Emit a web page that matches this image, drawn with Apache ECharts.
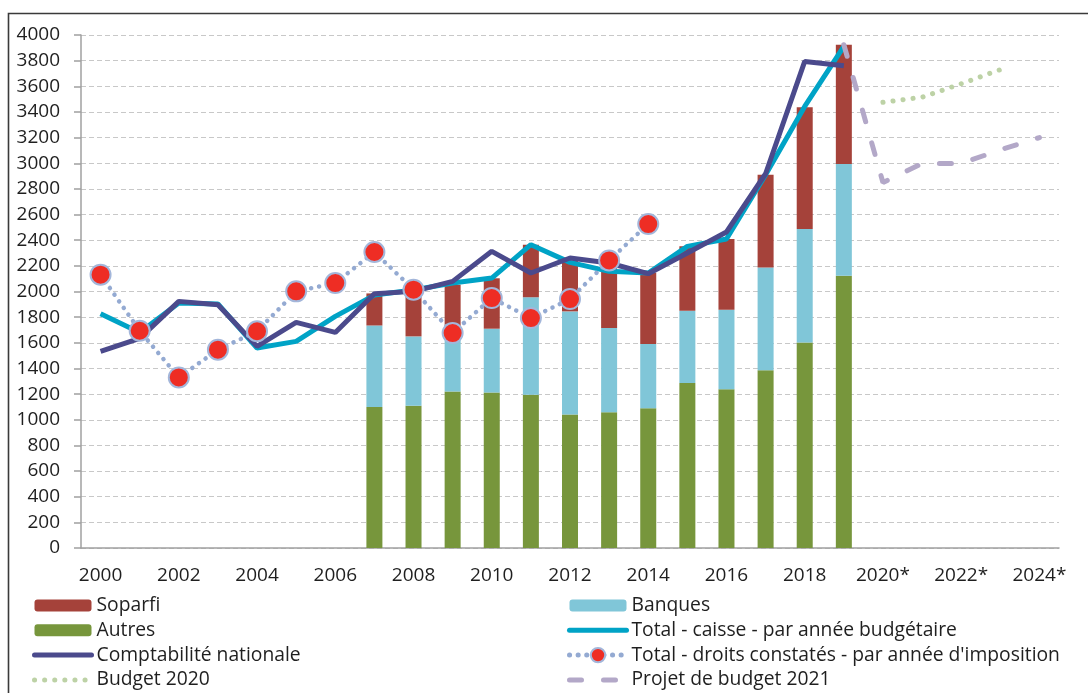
<!DOCTYPE html>
<html>
<head>
<meta charset="utf-8">
<script src="https://cdn.jsdelivr.net/npm/echarts@6/dist/echarts.min.js"></script>
<style>
  html, body { margin: 0; padding: 0; background: #fff; }
  #chart { width: 1088px; height: 693px; }
</style>
</head>
<body>
<div id="chart"></div>
<script>
// années (les années projetées portent un astérisque)
const years = ['2000', '2001', '2002', '2003', '2004', '2005', '2006', '2007', '2008', '2009',
  '2010', '2011', '2012', '2013', '2014', '2015', '2016', '2017', '2018', '2019',
  '2020*', '2021*', '2022*', '2023*', '2024*']

// composantes empilées (2007-2019)
const autres = [null, null, null, null, null, null, null, 1100, 1110, 1220, 1213, 1195, 1040, 1058, 1089, 1287, 1237, 1385, 1603, 2123]
const banques = [null, null, null, null, null, null, null, 635, 540, 440, 497, 760, 805, 657, 501, 563, 621, 803, 884, 871]
const soparfi = [null, null, null, null, null, null, null, 250, 350, 393, 393, 410, 395, 485, 556, 502, 551, 722, 949, 930]

const comptaNationale = [1533, 1635, 1923, 1897, 1572, 1759, 1681, 1983, 2001, 2079, 2313, 2144, 2261, 2222, 2139, 2300, 2464, 2918, 3794, 3760]
const totalCaisse = [1827, 1680, 1910, 1903, 1559, 1611, 1806, 1972, 2012, 2066, 2105, 2365, 2227, 2157, 2144, 2352, 2409, 2910, 3443, 3911]
const droitsConstates = [2131, 1694, 1330, 1546, 1690, 2001, 2066, 2308, 2014, 1676, 1949, 1793, 1941, 2242, 2526]
const budget2020 = [null, null, null, null, null, null, null, null, null, null, null, null, null, null, null, null, null, null, null, null, 3475, 3515, 3620, 3730]
const projetBudget2021 = [null, null, null, null, null, null, null, null, null, null, null, null, null, null, null, null, null, null, null, 3924, 2850, 2998, 2998, 3105, 3200]

const yTicks = { min: 0, max: 4000, step: 200 }

const txt = '#1f1f1f'
const font = '"Open Sans", "Noto Sans", sans-serif'

// couleurs
const cSoparfi = '#a5423a'
const cBanques = '#80c6d8'
const cAutres = '#77963c'
const cCompta = '#4b4a8c'
const cCaisse = '#00a3c6'
const cDroits = '#94aad2'
const cBudget = '#bdd2a6'
const cProjet = '#b3a8c8'

const nCaisse = 'Total - caisse - par année budgétaire'
const nDroits = 'Total - droits constatés - par année d\'imposition'

const legendText = { fontSize: 19.3, color: txt, lineHeight: 20, fontFamily: font }
const noSymbol = { opacity: 0 }

let myChart = echarts.init(document.getElementById('chart'))
myChart.setOption({
  animation: false,
  textStyle: { fontFamily: font },
  graphic: [{
    type: 'rect',
    shape: { x: 8.5, y: 13.5, width: 1200, height: 800 },
    style: { fill: 'none', stroke: '#3a3a3a', lineWidth: 1.6 },
    silent: true
  }],
  grid: { left: 81, right: 29, top: 35, bottom: 145 },
  legend: [
    {
      orient: 'vertical',
      left: 32,
      top: 595.5,
      padding: 0,
      itemWidth: 57,
      itemHeight: 12,
      itemGap: 4.8,
      textStyle: legendText,
      data: [
        { name: 'Soparfi' },
        { name: 'Autres' },
        { name: 'Comptabilité nationale', itemStyle: noSymbol, lineStyle: { width: 5, cap: 'round' } },
        { name: 'Budget 2020', itemStyle: noSymbol, lineStyle: { width: 5, type: [0.1, 10], cap: 'round' } }
      ]
    },
    {
      orient: 'vertical',
      left: 567,
      top: 595.5,
      padding: 0,
      itemWidth: 57,
      itemHeight: 12,
      itemGap: 4.8,
      textStyle: legendText,
      data: [
        { name: 'Banques' },
        { name: nCaisse, itemStyle: noSymbol, lineStyle: { width: 5, cap: 'round' } }
      ]
    },
    {
      orient: 'vertical',
      left: 567,
      top: 645.1,
      padding: 0,
      itemWidth: 57,
      itemHeight: 18,
      itemGap: 4.8,
      textStyle: legendText,
      data: [
        { name: nDroits, lineStyle: { width: 5, type: [0.1, 8.5], cap: 'round' } },
        { name: 'Projet de budget 2021', itemStyle: noSymbol, lineStyle: { width: 5, type: [12, 22], cap: 'round' } }
      ]
    }
  ],
  xAxis: {
    type: 'category',
    data: years,
    boundaryGap: true,
    axisLine: { lineStyle: { color: '#a0a0a0', width: 1.5 } },
    axisTick: { interval: 0, length: 8, lineStyle: { color: '#a0a0a0', width: 1.5 } },
    axisLabel: { interval: 1, fontSize: 19, color: txt, margin: 18 },
    splitLine: { show: false }
  },
  yAxis: {
    type: 'value',
    min: yTicks.min,
    max: yTicks.max,
    interval: yTicks.step,
    axisLine: { show: true, lineStyle: { color: '#a0a0a0', width: 1.5 } },
    axisTick: { show: true, length: 7, lineStyle: { color: '#a0a0a0', width: 1.5 } },
    axisLabel: { fontSize: 19, color: txt, margin: 21, formatter: v => String(v) },
    splitLine: { lineStyle: { color: '#c8c8c8', width: 1.2, type: [5, 3] } }
  },
  series: [
    {
      name: 'Autres',
      type: 'bar',
      stack: 'total',
      barWidth: 16,
      data: autres,
      itemStyle: { color: cAutres }
    },
    {
      name: 'Banques',
      type: 'bar',
      stack: 'total',
      barWidth: 16,
      data: banques,
      itemStyle: { color: cBanques }
    },
    {
      name: 'Soparfi',
      type: 'bar',
      stack: 'total',
      barWidth: 16,
      data: soparfi,
      itemStyle: { color: cSoparfi }
    },
    {
      name: nCaisse,
      type: 'line',
      data: totalCaisse,
      symbol: 'none',
      lineStyle: { color: cCaisse, width: 5 },
      itemStyle: { color: cCaisse }
    },
    {
      name: 'Comptabilité nationale',
      type: 'line',
      data: comptaNationale,
      symbol: 'none',
      lineStyle: { color: cCompta, width: 5 },
      itemStyle: { color: cCompta }
    },
    {
      name: 'Budget 2020',
      type: 'line',
      data: budget2020,
      symbol: 'none',
      lineStyle: { color: cBudget, width: 5, type: [0.1, 10], cap: 'round' },
      itemStyle: { color: cBudget }
    },
    {
      name: 'Projet de budget 2021',
      type: 'line',
      data: projetBudget2021,
      symbol: 'none',
      lineStyle: { color: cProjet, width: 5, type: [12, 22], cap: 'round' },
      itemStyle: { color: cProjet }
    },
    {
      name: nDroits,
      type: 'line',
      data: droitsConstates,
      symbol: 'circle',
      symbolSize: 20,
      showAllSymbol: true,
      lineStyle: { color: cDroits, width: 4.5, type: [0.1, 8], cap: 'round' },
      itemStyle: { color: '#ee2d24', borderColor: '#a3b6da', borderWidth: 2 }
    }
  ]
})
</script>
</body>
</html>
